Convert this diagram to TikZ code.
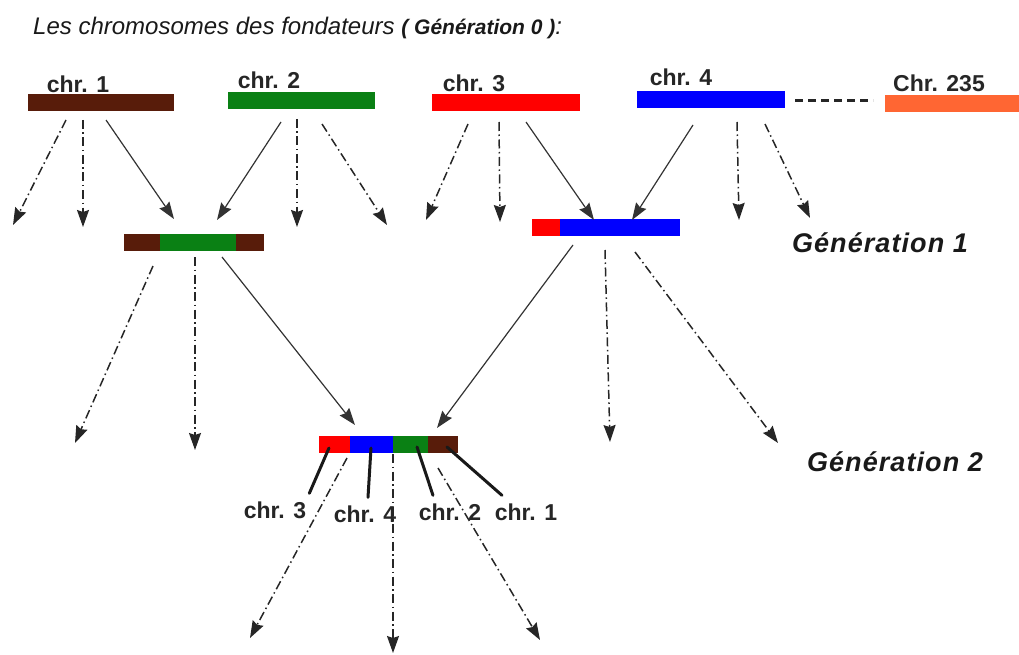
\documentclass[tikz,border=0pt]{standalone}
\usepackage{fontspec}
\setmainfont{Liberation Sans}
\usetikzlibrary{arrows.meta,calc}

\definecolor{cbrown}{RGB}{88,28,10}
\definecolor{cgreen}{RGB}{10,128,20}
\definecolor{cred}{RGB}{255,0,0}
\definecolor{cblue}{RGB}{0,0,255}
\definecolor{corange}{RGB}{255,102,51}

\tikzset{
  bar/.style={rectangle, inner sep=0pt, outer sep=0pt, minimum height=17pt, anchor=north west, draw=none},
  lbl/.style={font=\fontsize{23}{26}\selectfont\bfseries, inner sep=0pt, text=black!85},
  genlbl/.style={font=\fontsize{27}{30}\selectfont\bfseries\itshape\addfontfeature{LetterSpace=4}, inner sep=0pt, text=black!90},
  tip/.style={-{Stealth[length=17pt,width=12pt,inset=2pt]}},
  cross/.style={tip, line width=1.2pt, black!80},
  drift/.style={tip, line width=1.5pt, black!85, dash pattern=on 9pt off 3.5pt on 1.5pt off 3.5pt},
  pointer/.style={line width=3pt, black!90, line cap=round},
}

\begin{document}
\begin{tikzpicture}[x=1pt,y=-1pt]
\useasboundingbox (0,0) rectangle (1019,655);

% heading
\node[anchor=west, inner sep=0pt, text=black!90] (title) at (33,28)
  {\fontsize{24}{28}\selectfont\itshape Les chromosomes des fondateurs
   {\fontsize{21}{28}\selectfont\bfseries ( Génération 0 )}:};

% founder chromosomes
\node[bar, fill=cbrown,  minimum width=146pt] (c1) at (28,94) {};
\node[bar, fill=cgreen,  minimum width=147pt] (c2) at (228,92) {};
\node[bar, fill=cred,    minimum width=148pt] (c3) at (432,94) {};
\node[bar, fill=cblue,   minimum width=148pt] (c4) at (637,91) {};
\node[bar, fill=corange, minimum width=134pt] (c235) at (885,95) {};

\node[lbl] (l1) at (78,84) {chr. 1};
\node[lbl] (l2) at (269,80) {chr. 2};
\node[lbl] (l3) at (474,83) {chr. 3};
\node[lbl] (l4) at (681,77) {chr. 4};
\node[lbl] (l235) at (939,83) {Chr. 235};

% the chromosomes in between
\coordinate (d0) at ($(c4.east)+(10,1.5)$);
\draw[line width=3pt, black!85, dash pattern=on 8pt off 5pt] (d0) -- ($(d0 -| c235.west)+(-12,0)$) coordinate (d1);

% generation 1 chromosomes
\node[bar, fill=cbrown, minimum width=36pt] (g1a) at (124,234) {};
\node[bar, fill=cgreen, minimum width=76pt] (g1b) at (160,234) {};
\node[bar, fill=cbrown, minimum width=28pt] (g1c) at (236,234) {};

\node[bar, fill=cred,  minimum width=28pt]  (g2a) at (532,219) {};
\node[bar, fill=cblue, minimum width=120pt] (g2b) at (560,219) {};

% generation 2 chromosome
\node[bar, fill=cred,   minimum width=31pt] (h1) at (319,436) {};
\node[bar, fill=cblue,  minimum width=43pt] (h2) at (350,436) {};
\node[bar, fill=cgreen, minimum width=35pt] (h3) at (393,436) {};
\node[bar, fill=cbrown, minimum width=30pt] (h4) at (428,436) {};

\node[genlbl] (gen1) at (880,243) {Génération 1};
\node[genlbl] (gen2) at (895,462) {Génération 2};

% arrow start points below each chromosome
\path (c1.south west) ++(38,9)  coordinate (s11) (c1.south west) ++(55,9) coordinate (s12) (c1.south west) ++(78,9) coordinate (s13);
\path (c2.south west) ++(53,13) coordinate (s21) (c2.south west) ++(69,10) coordinate (s22) (c2.south west) ++(94,15) coordinate (s23);
\path (c3.south west) ++(36,13) coordinate (s31) (c3.south west) ++(67,11) coordinate (s32) (c3.south west) ++(94,11) coordinate (s33);
\path (c4.south west) ++(56,17) coordinate (s41) (c4.south west) ++(100,14) coordinate (s42) (c4.south west) ++(128,16) coordinate (s43);
\path (g1a.south west) ++(29,15) coordinate (s51) (g1a.south west) ++(71,6) coordinate (s52) (g1a.south west) ++(98,6) coordinate (s53);
\path (g2a.south west) ++(41,9) coordinate (s61) (g2a.south west) ++(73,14) coordinate (s62) (g2a.south west) ++(103,16) coordinate (s63);
\path (h1.south west) ++(28,5) coordinate (s71) (h1.south west) ++(74,1) coordinate (s72) (h1.south west) ++(119,15) coordinate (s73);

% arrow end points
\coordinate (e11) at (13,225);  \coordinate (e12) at (83,227);  \coordinate (e21) at (217,220);
\coordinate (e22) at (297,227); \coordinate (e23) at (387,225); \coordinate (e31) at (426,220);
\coordinate (e32) at (500,222); \coordinate (e33) at (594,220); \coordinate (e41) at (632,220);
\coordinate (e42) at (739,220); \coordinate (e43) at (810,218); \coordinate (e13) at (174,219);
\coordinate (e51) at (75,443);  \coordinate (e52) at (195,450); \coordinate (e53) at (355,425);
\coordinate (e61) at (437,428); \coordinate (e62) at (610,442); \coordinate (e63) at (778,443);
\coordinate (e71) at (250,638); \coordinate (e72) at (393,653); \coordinate (e73) at (540,640);

% crossings that build the next generation
\draw[cross] (s13) -- (e13);
\draw[cross] (s21) -- (e21);
\draw[cross] (s33) -- (e33);
\draw[cross] (s41) -- (e41);
\draw[cross] (s53) -- (e53);
\draw[cross] (s61) -- (e61);

% other descendants
\draw[drift] (s11) -- (e11);
\draw[drift] (s12) -- (e12);
\draw[drift] (s22) -- (e22);
\draw[drift] (s23) -- (e23);
\draw[drift] (s31) -- (e31);
\draw[drift] (s32) -- (e32);
\draw[drift] (s42) -- (e42);
\draw[drift] (s43) -- (e43);
\draw[drift] (s51) -- (e51);
\draw[drift] (s52) -- (e52);
\draw[drift] (s62) -- (e62);
\draw[drift] (s63) -- (e63);
\draw[drift] (s71) -- (e71);
\draw[drift] (s72) -- (e72);
\draw[drift] (s73) -- (e73);

% origin of each segment of the generation 2 chromosome
\node[lbl] (m3) at (275,510) {chr. 3};
\node[lbl] (m4) at (365,514) {chr. 4};
\node[lbl] (m2) at (450,512) {chr. 2};
\node[lbl] (m1) at (526,512) {chr. 1};
\draw[pointer] ($(h1.south west)+(10,-5)$) -- ($(m3.north east)+(3,-8)$);
\draw[pointer] ($(h2.south west)+(21,-5)$) -- ($(m4.north)+(3,-8)$);
\draw[pointer] ($(h3.south west)+(24,-6)$) -- ($(m2.north)+(-17,-8)$);
\draw[pointer] ($(h4.south west)+(19,-6)$) -- ($(m1.north)+(-24,-8)$);
\end{tikzpicture}
\end{document}
